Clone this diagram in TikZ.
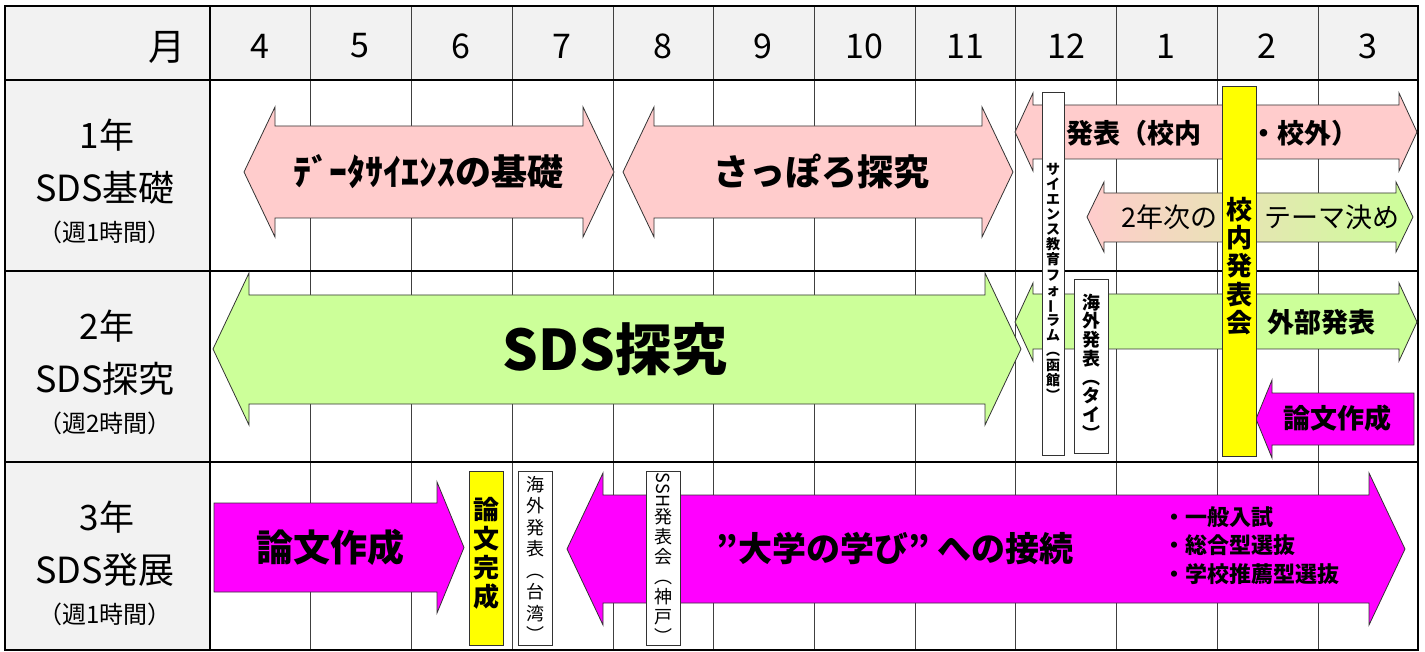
\documentclass[tikz,border=0pt]{standalone}
\usepackage{fontspec}
\setmainfont{Noto Sans CJK JP}
\definecolor{hdr}{HTML}{F2F2F2}
\definecolor{pinkA}{HTML}{FFCCCC}
\definecolor{greenA}{HTML}{CCFF99}
\definecolor{magA}{HTML}{FF00FF}
\definecolor{yelA}{HTML}{FFFF00}
\definecolor{gridc}{HTML}{404040}
\newcommand\DArrow[8]{%
 \draw[#1] (#2,{(#5+#8)/2}) -- ({#2+#4},#5) -- ({#2+#4},#6) -- ({#3-#4},#6) -- ({#3-#4},#5) -- (#3,{(#5+#8)/2}) -- ({#3-#4},#8) -- ({#3-#4},#7) -- ({#2+#4},#7) -- ({#2+#4},#8) -- cycle;}
\newcommand\fs[1]{\fontsize{#1}{#1}\selectfont}
\begin{document}
\begin{tikzpicture}[x=1pt,y=-1pt,
  gridline/.style={gridc,line width=1pt},
  rowline/.style={black,line width=2pt},
  arrowshape/.style={draw=black!80,line width=0.8pt},
  barbox/.style={draw=black!80,line width=0.8pt},
  lbl/.style={inner sep=0pt,text=black},
  vstack/.style={inner sep=0pt,align=center,text=black}]
\useasboundingbox (0,0) rectangle (1425,652);
% backgrounds
\fill[hdr] (5,6) rectangle (1418,80);
\fill[hdr] (5,80) rectangle (210,650);
% grid
\foreach \x in {310,411,512,613,713,814,915,1015,1116,1217,1318}{\draw[gridline] (\x,6) -- (\x,650);}
\draw[rowline] (210,6) -- (210,650);
\draw[rowline] (5,80) -- (1418,80);
\draw[rowline] (5,271) -- (1418,271);
\draw[rowline] (5,462) -- (1418,462);
\draw[black,line width=2.5pt] (5,6) rectangle (1418,650);
% header text
\node[lbl,font=\fs{37}] (hm) at (167,47) {月};
\foreach \m/\x in {4/260,5/360,6/461,7/562,8/663,9/763,10/864,11/965,12/1066,1/1166,2/1267,3/1368}{
  \node[lbl,font=\fs{34}] (h\m) at (\x,46) {\m};}
% left labels
\node[lbl,font=\fs{35}] (y1a) at (107,135) {1年};
\node[lbl,font=\fs{36}] (y1b) at (105,188) {SDS基礎};
\node[lbl,font=\fs{24}] (y1c) at (105,232) {（週1時間）};
\node[lbl,font=\fs{35}] (y2a) at (107,326) {2年};
\node[lbl,font=\fs{36}] (y2b) at (105,379) {SDS探究};
\node[lbl,font=\fs{24}] (y2c) at (105,423) {（週2時間）};
\node[lbl,font=\fs{35}] (y3a) at (107,517) {3年};
\node[lbl,font=\fs{36}] (y3b) at (105,570) {SDS発展};
\node[lbl,font=\fs{24}] (y3c) at (105,614) {（週1時間）};
% row 1 arrows
\DArrow{arrowshape,fill=pinkA}{244}{614}{31}{107}{126}{218}{237}
\DArrow{arrowshape,fill=pinkA}{623}{1013}{31}{107}{126}{218}{237}
\DArrow{arrowshape,fill=pinkA}{1015}{1417}{18}{93}{105}{159}{171}
\DArrow{arrowshape,left color=pinkA,right color=greenA,middle color=pinkA!50!greenA}{1087}{1413}{17}{182}{193}{242}{252}
% row 2 arrows
\DArrow{arrowshape,fill=greenA}{213}{1021}{36}{273}{295}{404}{425}
\DArrow{arrowshape,fill=greenA}{1015}{1417}{18}{283}{294}{349}{361}
\draw[arrowshape,fill=magA] (1256,419) -- (1272,380) -- (1272,393) -- (1414,393) -- (1414,445) -- (1272,445) -- (1272,458) -- cycle;
% row 3 arrows
\draw[arrowshape,fill=magA] (214,503) -- (437,503) -- (437,482) -- (464,547.5) -- (437,613) -- (437,592) -- (214,592) -- cycle;
\DArrow{arrowshape,fill=magA}{567}{1405}{36}{473}{495}{603}{625}
% arrow texts
\node[lbl,font=\bfseries\fs{36}] (t1) at (428,172) {ﾃﾞｰﾀｻｲｴﾝｽの基礎};
\node[lbl,font=\bfseries\fs{36}] (t2) at (821,172) {さっぽろ探究};
\node[lbl,font=\bfseries\fs{27},anchor=west] (t3) at (1066,133) {発表（校内};
\node[lbl,font=\bfseries\fs{27},anchor=west] (t3b) at (1250,133) {・校外）};
\node[lbl,font=\fs{27},anchor=west] (t4) at (1121,217) {2年次の};
\node[lbl,font=\fs{27},anchor=west] (t4b) at (1264,217) {テーマ決め};
\node[lbl,font=\bfseries\fs{56}] (t5) at (615,349) {SDS探究};
\node[lbl,font=\bfseries\fs{27}] (t6) at (1321,322) {外部発表};
\node[lbl,font=\bfseries\fs{27}] (t7) at (1337,418) {論文作成};
\node[lbl,font=\bfseries\fs{37}] (t8) at (330,547) {論文作成};
\node[lbl,font=\bfseries\fs{34}] (t9) at (895,549) {”大学の学び” への接続};
\node[lbl,font=\bfseries\fontsize{22}{28.5}\selectfont,align=left,anchor=north west] (t10) at (1163,506) {・一般入試\\・総合型選抜\\・学校推薦型選抜};
% vertical bars
\draw[barbox,fill=white] (1042,92) rectangle (1064,455);
\node[vstack,font=\bfseries\fontsize{14}{15.1}\selectfont] (forum) at (1053,282) {サ\\イ\\エ\\ン\\ス\\教\\育\\フ\\ォ\\\rotatebox[origin=c]{90}{ー}\\ラ\\ム\\︵\\函\\館\\︶};
\draw[barbox,fill=white] (1074,279) rectangle (1108,453);
\node[vstack,font=\bfseries\fontsize{18}{18.7}\selectfont] (thai) at (1091,367) {海\\外\\発\\表\\︵\\タ\\イ\\︶};
\draw[barbox,fill=yelA] (1222,86) rectangle (1256,456);
\node[vstack,font=\bfseries\fontsize{26}{28.3}\selectfont] (kounai) at (1239,266) {校\\内\\発\\表\\会};
\draw[barbox,fill=yelA] (469,471) rectangle (503,645);
\node[vstack,font=\bfseries\fontsize{26}{29}\selectfont] (kansei) at (486,553) {論\\文\\完\\成};
\draw[barbox,fill=white] (518,471) rectangle (552,645);
\node[vstack,font=\fontsize{18}{21.5}\selectfont] (taiwan) at (535,559) {海\\外\\発\\表\\︵\\台\\湾\\︶};
\draw[barbox,fill=white] (646,471) rectangle (680,645);
\node[vstack,font=\fontsize{18}{20}\selectfont] (ssh) at (663,558) {\rotatebox[origin=c]{-90}{SSH}\\発\\表\\会\\︵\\神\\戸\\︶};
\end{tikzpicture}
\end{document}
